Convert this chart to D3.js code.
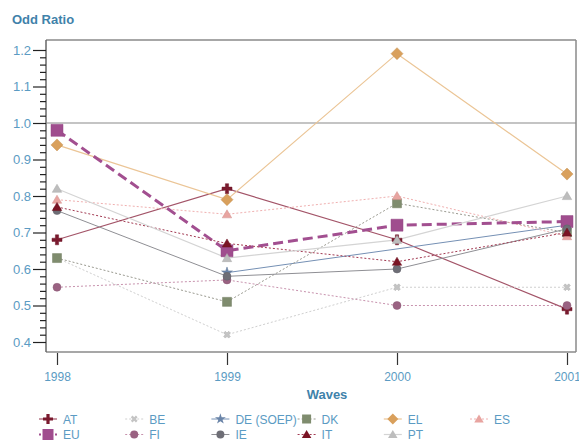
<!DOCTYPE html>
<html><head><meta charset="utf-8">
<script src="https://cdn.jsdelivr.net/npm/d3@7"></script>
<style>body{margin:0;background:#fff}svg{display:block}text{font-family:"Liberation Sans",Arial,sans-serif}</style>
</head><body><svg id="c" width="579" height="441"></svg>
<script>
const waves = [1998, 1999, 2000, 2001];
const yTicks = [0.4, 0.5, 0.6, 0.7, 0.8, 0.9, 1.0, 1.1, 1.2];
const seriesNames = ["AT","BE","DE (SOEP)","DK","EL","ES","EU","FI","IE","IT","PT"];
const AT = [0.68, 0.82, 0.68, 0.49];
const BE = [0.63, 0.42, 0.55, 0.55];
const DE = [null, 0.59, null, 0.72];
const DK = [0.63, 0.51, 0.78, 0.70];
const EL = [0.94, 0.79, 1.19, 0.86];
const ES = [0.79, 0.75, 0.80, 0.69];
const EU = [0.98, 0.65, 0.72, 0.73];
const FI = [0.55, 0.57, 0.50, 0.50];
const IE = [0.76, 0.58, 0.60, 0.71];
const IT = [0.77, 0.67, 0.62, 0.70];
const PT = [0.82, 0.63, 0.68, 0.80];
const values = [AT, BE, DE, DK, EL, ES, EU, FI, IE, IT, PT];

const styles = {
  "AT":        {line:"#a35468", mark:"#7a1a2e", shape:"plus",     size:10, dash:null,  w:1.2},
  "BE":        {line:"#cfcfcf", mark:"#c4c4c4", shape:"x",        size:8,  dash:"2,2", w:1},
  "DE (SOEP)": {line:"#7590b4", mark:"#6a84a8", shape:"star",     size:9,  dash:null,  w:1},
  "DK":        {line:"#9a9a90", mark:"#7f8c6e", shape:"square",   size:9,  dash:"2,2", w:1},
  "EL":        {line:"#ebc596", mark:"#d9a05c", shape:"diamond",  size:12, dash:null,  w:1.2},
  "ES":        {line:"#f0b0b0", mark:"#e8a4a0", shape:"triangle", size:9,  dash:"2,2", w:1},
  "EU":        {line:"#a24f90", mark:"#a04d8e", shape:"square",   size:12, dash:"10,5",w:3},
  "FI":        {line:"#c893ae", mark:"#9a6282", shape:"circle",   size:8,  dash:"2,2", w:1},
  "IE":        {line:"#8f8f94", mark:"#6e6e76", shape:"circle",   size:8,  dash:null,  w:1},
  "IT":        {line:"#a23a52", mark:"#7a1424", shape:"triangle", size:9,  dash:"2,2", w:1},
  "PT":        {line:"#d4d4d4", mark:"#bdbdbd", shape:"triangle", size:9,  dash:null,  w:1.2}
};

const svg = d3.select("#c");
const x = d3.scaleLinear().domain([1998, 2001]).range([57, 567]);
const y = d3.scaleLinear().domain([0.4, 1.2]).range([342, 50]);
const L = 46, R = 576, T = 40, B = 352;
const blue = "#3f82aa", tickBlue = "#5b9bc3";

svg.append("text").attr("x", 12).attr("y", 24).text("Odd Ratio")
  .attr("font-weight", "bold").attr("font-size", 13).attr("fill", blue);

// frame
svg.append("line").attr("x1", L).attr("x2", R).attr("y1", T).attr("y2", T).attr("stroke", "#8a8a8a").attr("stroke-width", 1.5);
svg.append("line").attr("x1", R).attr("x2", R).attr("y1", T).attr("y2", B).attr("stroke", "#8a8a8a").attr("stroke-width", 1.5);
svg.append("line").attr("x1", L).attr("x2", R).attr("y1", B).attr("y2", B).attr("stroke", "#8a8a8a").attr("stroke-width", 1.5);
svg.append("line").attr("x1", L).attr("x2", L).attr("y1", T).attr("y2", B).attr("stroke", "#666").attr("stroke-width", 1.5);
svg.append("line").attr("x1", L).attr("x2", R).attr("y1", y(1.0)).attr("y2", y(1.0)).attr("stroke", "#8a8a8a").attr("stroke-width", 1.2);

// y axis
const yAxis = d3.axisLeft(y).tickValues(yTicks).tickFormat(d3.format(".1f")).tickSize(13).tickSizeOuter(0);
const gy = svg.append("g").attr("transform", `translate(${L},0)`).call(yAxis);
gy.select(".domain").remove();
gy.selectAll(".tick line").attr("stroke", "#222").attr("stroke-width", 1.2);
gy.selectAll(".tick text").attr("font-size", 13).attr("fill", tickBlue).attr("x", -15).attr("font-family", "Liberation Sans, Arial, sans-serif");
const minor = d3.range(0.42, 1.2, 0.02).filter(v => Math.abs(v * 10 - Math.round(v * 10)) > 0.01);
const yMinor = d3.axisLeft(y).tickValues(minor).tickFormat("").tickSize(6).tickSizeOuter(0);
const gym = svg.append("g").attr("transform", `translate(${L},0)`).call(yMinor);
gym.select(".domain").remove();
gym.selectAll(".tick line").attr("stroke", "#222").attr("stroke-width", 1.2);

// x axis
const xAxis = d3.axisBottom(x).tickValues(waves).tickFormat(d3.format("d")).tickSize(12).tickSizeOuter(0);
const gx = svg.append("g").attr("transform", `translate(0,${B + 1})`).call(xAxis);
gx.select(".domain").remove();
gx.selectAll(".tick line").attr("stroke", "#333").attr("stroke-width", 1.2);
gx.selectAll(".tick text").attr("font-size", 12).attr("fill", tickBlue).attr("y", 19).attr("font-family", "Liberation Sans, Arial, sans-serif");
svg.append("text").attr("x", 327).attr("y", 399).attr("text-anchor", "middle").text("Waves")
  .attr("font-weight", "bold").attr("font-size", 13).attr("fill", blue);

function symPath(shape, s) {
  const h = s / 2;
  switch (shape) {
    case "plus": { const t = s * 0.16; return `M${-h},${-t}H${-t}V${-h}H${t}V${-t}H${h}V${t}H${t}V${h}H${-t}V${t}H${-h}Z`; }
    case "x": return d3.symbol(d3.symbolCross, s * s * 0.45)() ;
    case "star": return d3.symbol(d3.symbolStar, s * s * 0.45)();
    case "square": return `M${-h},${-h}H${h}V${h}H${-h}Z`;
    case "diamond": return `M0,${-h}L${h},0L0,${h}L${-h},0Z`;
    case "triangle": return `M0,${-h}L${h * 1.05},${h * 0.8}L${-h * 1.05},${h * 0.8}Z`;
    case "circle": return d3.symbol(d3.symbolCircle, Math.PI * h * h)();
  }
}

const line = d3.line().x(d => x(d[0])).y(d => y(d[1]));
const plotG = svg.append("g");
seriesNames.forEach((name, i) => {
  const st = styles[name];
  const pts = waves.map((w, j) => [w, values[i][j]]).filter(d => d[1] != null);
  plotG.append("path").datum(pts).attr("d", line).attr("fill", "none")
    .attr("stroke", st.line).attr("stroke-width", st.w).attr("stroke-dasharray", st.dash);
});
seriesNames.forEach((name, i) => {
  const st = styles[name];
  const pts = waves.map((w, j) => [w, values[i][j]]).filter(d => d[1] != null);
  plotG.selectAll(null).data(pts).enter().append("path")
    .attr("d", symPath(st.shape, st.size))
    .attr("transform", d => `translate(${x(d[0])},${y(d[1])})` + (st.shape === "x" ? " rotate(45)" : ""))
    .attr("fill", st.mark).attr("stroke", d3.color(st.mark).darker(0.3)).attr("stroke-width", 0.5);
});

// legend
const lg = svg.append("g");
seriesNames.forEach((name, i) => {
  const st = styles[name];
  const col = i < 6 ? i : i - 6, row = i < 6 ? 0 : 1;
  const cx = 48 + col * 86.2, cy = 419 + row * 15.5;
  lg.append("line").attr("x1", cx - 9).attr("x2", cx + 9).attr("y1", cy).attr("y2", cy)
    .attr("stroke", st.line).attr("stroke-width", Math.min(st.w, 2)).attr("stroke-dasharray", st.dash ? "2,2" : null);
  lg.append("path").attr("d", symPath(st.shape, Math.min(st.size, 11)))
    .attr("transform", `translate(${cx},${cy})` + (st.shape === "x" ? " rotate(45)" : ""))
    .attr("fill", st.mark);
  lg.append("text").attr("x", cx + 15).attr("y", cy + 4.5).text(name)
    .attr("font-size", 12).attr("fill", tickBlue);
});
</script></body></html>
